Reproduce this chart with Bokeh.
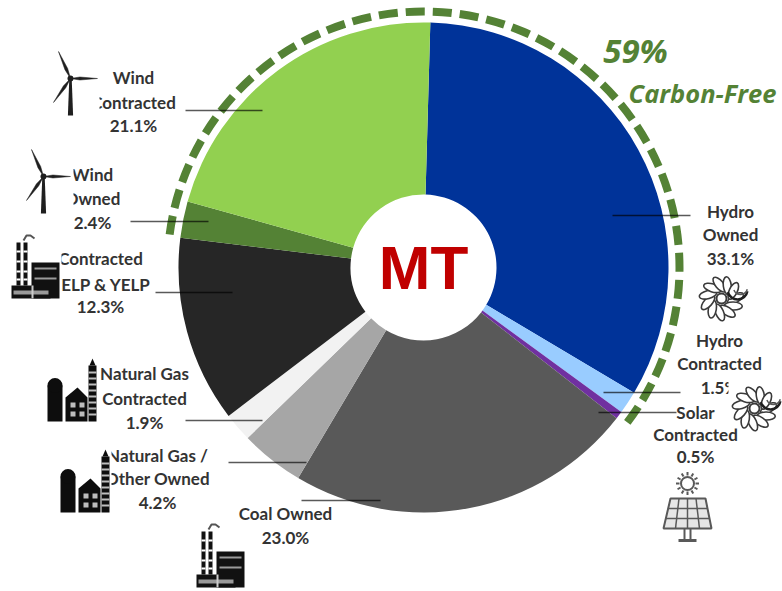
import math
from bokeh.plotting import figure
from bokeh.models import ColumnDataSource, Range1d
from bokeh.core.properties import value
from bokeh.embed import file_html
from bokeh.resources import INLINE

# ---- data ----
categories = ["Hydro Owned", "Hydro Contracted", "Solar Contracted", "Coal Owned",
              "Natural Gas / Other Owned", "Natural Gas Contracted",
              "Contracted CELP & YELP", "Wind Owned", "Wind Contracted"]
shares = [33.1, 1.5, 0.5, 23.0, 4.2, 1.9, 12.3, 2.4, 21.1]
colors = ["#003399", "#99ccff", "#7030a0", "#595959", "#a6a6a6", "#f2f2f2",
          "#262626", "#548235", "#92d050"]
label_lines = [
    ["Hydro", "Owned", "33.1%"],
    ["Hydro", "Contracted", "1.5%"],
    ["Solar", "Contracted", "0.5%"],
    ["Coal Owned", "23.0%"],
    ["Natural Gas /", "Other Owned", "4.2%"],
    ["Natural Gas", "Contracted", "1.9%"],
    ["Contracted", "CELP & YELP", "12.3%"],
    ["Wind", "Owned", "2.4%"],
    ["Wind", "Contracted", "21.1%"],
]
center_label = "MT"
carbon_share = "59%"
carbon_label = "Carbon-Free"

# ---- layout (page pixels of the picture) ----
OX, OY = 0, 0
W, H = 782, 591
CX, CY = 423, 267
R_OUT, R_IN, R_RING = 245, 73, 256
START = 1.6
RING_FROM, RING_TO = 277.4, 127.9
GREEN = "#548235"
label_x = [730, 719, 695, 285, 157, 144, 100, 92, 133]
label_y = [[211, 234, 258], [340, 363, 387], [412, 434, 456], [513, 537],
           [455, 478, 502], [373, 398, 422], [258, 284, 306], [174, 198, 222],
           [77, 102, 125]]
leaders = [(612, 690, 215), (603, 680, 392), (598, 676, 412), (301, 380, 500),
           (228, 306, 462), (185, 262, 420), (155, 232, 292), (130, 208, 221),
           (185, 262, 110)]

def X(px): return px - CX
def Y(py): return CY - py
def XS(a): return [X(v) for v in a]
def YS(a): return [Y(v) for v in a]

p = figure(width=W, height=H, output_backend="svg", toolbar_location=None,
           x_range=Range1d(X(OX), X(OX + W)), y_range=Range1d(Y(OY + H), Y(OY)),
           min_border=0, outline_line_color=None, background_fill_color="white")
p.axis.visible = False
p.grid.visible = False

# pie
starts, ends, acc = [], [], START
for s in shares:
    starts.append(math.radians(90 - acc))
    acc += s * 3.6
    ends.append(math.radians(90 - acc))
src = ColumnDataSource(dict(cat=categories, share=shares, color=colors, start=starts, end=ends))
p.annular_wedge(x=0, y=0, inner_radius=R_IN, outer_radius=R_OUT, start_angle="start", end_angle="end",
                direction="clock", fill_color="color", line_color=None, source=src)

# dashed carbon-free arc
p.arc(x=0, y=0, radius=R_RING, start_angle=math.radians(90 - RING_FROM),
      end_angle=math.radians(90 - RING_TO), direction="clock",
      line_color=GREEN, line_width=8, line_dash="19 8")

# labels
xs, ys, ts = [], [], []
for cx, lines, rows in zip(label_x, label_lines, label_y):
    for t, yy in zip(lines, rows):
        xs.append(X(cx)); ys.append(Y(yy)); ts.append(t)
p.text(x=xs, y=ys, text=ts, text_font=value("Lato"), text_font_size="17px", text_font_style="bold",
       text_color="#333333", text_align="center", text_baseline="middle")

# leaders
for x0, x1, yy in leaders:
    p.line(XS([x0, x1]), YS([yy, yy]), line_color="black", line_alpha=0.65, line_width=1.5)

# centre and carbon-free texts
p.text(x=[0], y=[0], text=[center_label], text_font=value("Liberation Sans"), text_font_style="bold",
       text_font_size="62px", text_color="#c00000", text_align="center", text_baseline="middle")
p.text(x=[X(635)], y=[Y(50)], text=[carbon_share], text_font=value("Open Sans"), text_font_style="bold italic",
       text_font_size="33px", text_color=GREEN, text_align="center", text_baseline="middle")
p.text(x=[X(702)], y=[Y(92)], text=[carbon_label], text_font=value("Open Sans"), text_font_style="bold italic",
       text_font_size="25.5px", text_color=GREEN, text_align="center", text_baseline="middle")

# ---- icons: white backing (crops the neighbouring text as in the picture) + drawing ----
def mask(x0, x1, y0, y1):
    p.quad(left=X(x0), right=X(x1), bottom=Y(y1), top=Y(y0), fill_color="white", line_color=None)

def blade(hx, hy, tx, ty, w=3.0):
    dx, dy = tx - hx, ty - hy
    L = math.hypot(dx, dy)
    nx, ny = -dy / L, dx / L
    mx, my = hx + dx * 0.35, hy + dy * 0.35
    px_ = [hx, mx + nx * w / 2, tx, mx - nx * w / 2]
    py_ = [hy, my + ny * w / 2, ty, my - ny * w / 2]
    p.patch(XS(px_), YS(py_), fill_color="#1f1f1f", line_color="#1f1f1f", line_width=0.5)

def turbine(hx, hy, bottom):
    p.patch(XS([hx - 1.2, hx + 1.2, hx + 2.6, hx - 2.6]), YS([hy, hy, bottom, bottom]),
            fill_color="#1f1f1f", line_color=None)
    blade(hx, hy, hx - 12, hy - 27)
    blade(hx, hy, hx + 27, hy)
    blade(hx, hy, hx - 17, hy + 24)
    p.circle(x=[X(hx)], y=[Y(hy)], radius=3, fill_color="#1f1f1f", line_color=None)

def factory(ox, oy):
    def r(x0, x1, y0, y1, c="#111111"):
        p.quad(left=X(ox + x0), right=X(ox + x1), bottom=Y(oy + y1), top=Y(oy + y0), fill_color=c, line_color=None)
    r(1, 40, 53, 66)
    r(21, 49, 30, 66)
    for cx in (8, 15):
        r(cx - 2, cx + 2, 10, 53)
        for yy in (18, 28, 38, 46):
            r(cx - 2, cx + 2, yy, yy + 2, "white")
    r(24, 46, 35, 37, "#9a9a9a")
    r(24, 46, 45, 47, "#9a9a9a")
    r(3, 38, 58, 62, "#9a9a9a")
    r(21, 23, 53, 66, "#cccccc")
    p.line(XS([ox + 13, ox + 16, ox + 20, ox + 24]), YS([oy + 8, oy + 3, oy + 3, oy + 6]),
           line_color="#555555", line_width=2)

def gasplant(ox, oy):
    def r(x0, x1, y0, y1, c="#0d0d0d"):
        p.quad(left=X(ox + x0), right=X(ox + x1), bottom=Y(oy + y1), top=Y(oy + y0), fill_color=c, line_color=None)
    r(2, 17, 28, 64)
    p.circle(x=[X(ox + 9.5)], y=[Y(oy + 28)], radius=7.5, fill_color="#0d0d0d", line_color=None)
    p.patch(XS([ox + 20, ox + 20, ox + 32, ox + 42, ox + 42]), YS([oy + 64, oy + 40, oy + 30, oy + 40, oy + 64]),
            fill_color="#0d0d0d", line_color=None)
    for wx in (25, 34):
        for wy in (45, 54):
            r(wx, wx + 5, wy, wy + 5, "#bdbdbd")
    r(43, 51, 8, 64)
    for yy in range(14, 62, 6):
        r(43, 51, yy, yy + 2, "#bdbdbd")
    p.patch(XS([ox + 44, ox + 47, ox + 50]), YS([oy + 8, oy + 1, oy + 8]), fill_color="#0d0d0d", line_color=None)

def hydro(cx, cy):
    c = "#3a3a3a"
    n = 11
    p.ellipse(x=[X(cx + 14 * math.cos(2 * math.pi * i / n)) for i in range(n)],
              y=[Y(cy + 14 * math.sin(2 * math.pi * i / n)) for i in range(n)],
              width=18, height=8,
              angle=[-2 * math.pi * i / n + 0.55 for i in range(n)],
              fill_color="white", line_color=c, line_width=1.6)
    p.circle(x=[X(cx)], y=[Y(cy)], radius=5, fill_color="white", line_color=c, line_width=2)
    p.arc(x=[X(cx + 16)], y=[Y(cy - 9)], radius=10, start_angle=math.radians(195), end_angle=math.radians(350),
          line_color="#1f1f1f", line_width=2.5)
    p.arc(x=[X(cx + 19)], y=[Y(cy - 11)], radius=7, start_angle=math.radians(200), end_angle=math.radians(345),
          line_color="#5a5a5a", line_width=1.5)

def solar(cx, cy):
    c = "#595959"
    for i in range(12):
        a = 2 * math.pi * i / 12
        p.line(XS([cx + 8 * math.cos(a), cx + 11.5 * math.cos(a)]),
               YS([cy + 8 * math.sin(a), cy + 11.5 * math.sin(a)]), line_color=c, line_width=2)
    p.circle(x=[X(cx)], y=[Y(cy)], radius=6.5, fill_color="white", line_color=c, line_width=2)
    top, bot = cy + 15, cy + 45
    p.patch(XS([cx - 17, cx + 18, cx + 24, cx - 24]), YS([top, top, bot, bot]),
            fill_color="#e6e6e6", line_color=c, line_width=2)
    for f in (1 / 3, 2 / 3):
        yy = top + (bot - top) * f
        hw = 17.5 + 6.5 * f
        p.line(XS([cx - hw, cx + hw]), YS([yy, yy]), line_color=c, line_width=1.5)
    for f in (-0.5, 0, 0.5):
        p.line(XS([cx + 17 * f, cx + 24 * f]), YS([top, bot]), line_color=c, line_width=1.5)
    for dx in (-3, 3):
        p.line(XS([cx + dx, cx + dx]), YS([bot, bot + 11]), line_color=c, line_width=2)
    p.line(XS([cx - 9, cx + 9]), YS([bot + 12, bot + 12]), line_color=c, line_width=3)

mask(30, 99, 40, 118);   turbine(70, 78, 115)
mask(20, 73, 148, 231);  turbine(43, 176, 213)
mask(8, 61, 232, 312);   factory(10, 232)
mask(40, 97, 355, 428);  gasplant(45, 357)
mask(55, 111, 445, 518); gasplant(58, 448)
factory(195, 521)
hydro(721, 298)
mask(728, 782, 380, 428); hydro(754, 408)
solar(687, 483)

open("out.html", "w").write(file_html(p, INLINE))
